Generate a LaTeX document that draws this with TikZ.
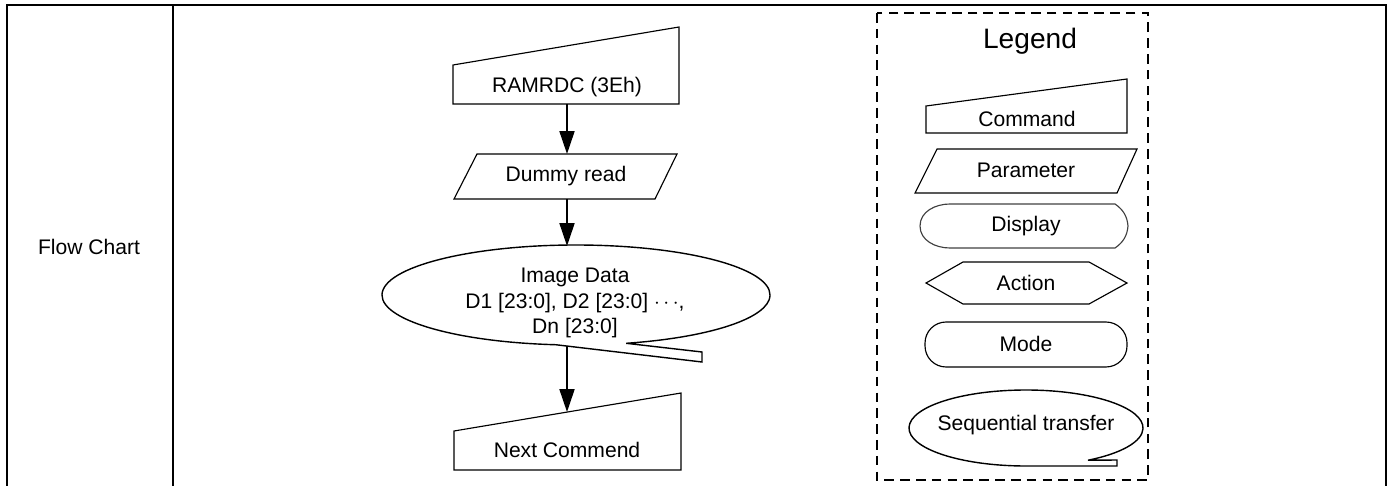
\documentclass[tikz,border=0pt]{standalone}
\usepackage{fontspec}
\setmainfont{Liberation Sans}
\usepackage{tikz}
\usetikzlibrary{arrows.meta, calc}

\begin{document}
\begin{tikzpicture}[x=0.02cm, y=-0.02cm,
  frame/.style={line width=1.3pt},
  shapeline/.style={draw, line width=0.65pt},
  flowarrow/.style={-{Triangle[length=13pt, width=8.5pt]}, line width=1.1pt},
  legendframe/.style={dash pattern=on 5.5pt off 3.5pt, line width=1.2pt},
  lbl/.style={font=\fontsize{12}{14.5}\selectfont, align=center, inner sep=0pt}]
  \useasboundingbox (0,0) rectangle (1391,486);

  % Table frame
  \draw[frame] (7,486) -- (7,5) -- (1386,5) -- (1386,486);
  \draw[frame] (173,5) -- (173,486);
  \node[lbl] (flowchart) at (89,247) {Flow Chart};

  % Flow: command RAMRDC
  \draw[shapeline] (453,65) -- (679,27) -- (679,104) -- (453,104) -- cycle;
  \node[lbl] (ramrdc) at (567,87) {RAMRDC (3Eh)};
  \coordinate (ramrdc-b) at (567,104);

  % Parameter: dummy read
  \draw[shapeline] (477,154) -- (677,154) -- (655,199) -- (454,199) -- cycle;
  \node[lbl] (dummy) at (566,176) {Dummy read};
  \coordinate (dummy-t) at (567,154);
  \coordinate (dummy-b) at (567,199);

  % Sequential transfer: image data
  \draw[line width=0.8pt] ($(576,295)+(96:194 and 50)$)
    arc (96:435:194 and 50) -- (702,352) -- (702,362) -- cycle;
  \node[lbl] (imgdata) at (575,303) {Image Data\\D1 [23:0], D2 [23:0] $\cdots$,\\Dn [23:0]};
  \coordinate (imgdata-t) at (567,246);
  \coordinate (imgdata-b) at (567,346);

  % Command: next
  \draw[shapeline] (454,431) -- (681,393) -- (681,470) -- (454,470) -- cycle;
  \node[lbl] (nextcmd) at (567,450) {Next Commend};
  \coordinate (nextcmd-t) at (567,412);

  % Arrows
  \draw[flowarrow] (ramrdc-b) -- (dummy-t);
  \draw[flowarrow] (dummy-b) -- (imgdata-t);
  \draw[flowarrow] (imgdata-b) -- (nextcmd-t);

  % Legend
  \draw[legendframe] (877,13) rectangle (1148,480);
  \node[lbl, font=\fontsize{16}{18}\selectfont] (legend) at (1030,41) {Legend};

  \draw[shapeline] (926,106) -- (1127,79) -- (1127,133) -- (926,133) -- cycle;
  \node[lbl] (lcmd) at (1027,119) {Command};

  \draw[shapeline] (937,149) -- (1137,149) -- (1117,193) -- (915,193) -- cycle;
  \node[lbl] (lparam) at (1026,170) {Parameter};

  \draw[shapeline, draw=black!75] (950,204) -- (1115,204)
    to[out=-35, in=95] (1128,226) to[out=-95, in=35] (1115,248)
    -- (950,248) to[out=180, in=-90] (920,226) to[out=90, in=180] cycle;
  \node[lbl] (ldisp) at (1026,226) {Display};

  \draw[shapeline] (926,283) -- (963,262) -- (1089,262) -- (1127,283)
    -- (1089,304) -- (963,304) -- cycle;
  \node[lbl] (laction) at (1026,283) {Action};

  \draw[shapeline, rounded corners=12pt] (925,322) rectangle (1127,367);
  \node[lbl] (lmode) at (1026,344) {Mode};

  \draw[line width=0.8pt] ($(1026,428)+(91:117 and 38)$)
    arc (91:418:117 and 38) -- (1117,460) -- (1117,466) -- cycle;
  \node[lbl] (lseq) at (1026,425) {Sequential transfer};
\end{tikzpicture}
\end{document}
